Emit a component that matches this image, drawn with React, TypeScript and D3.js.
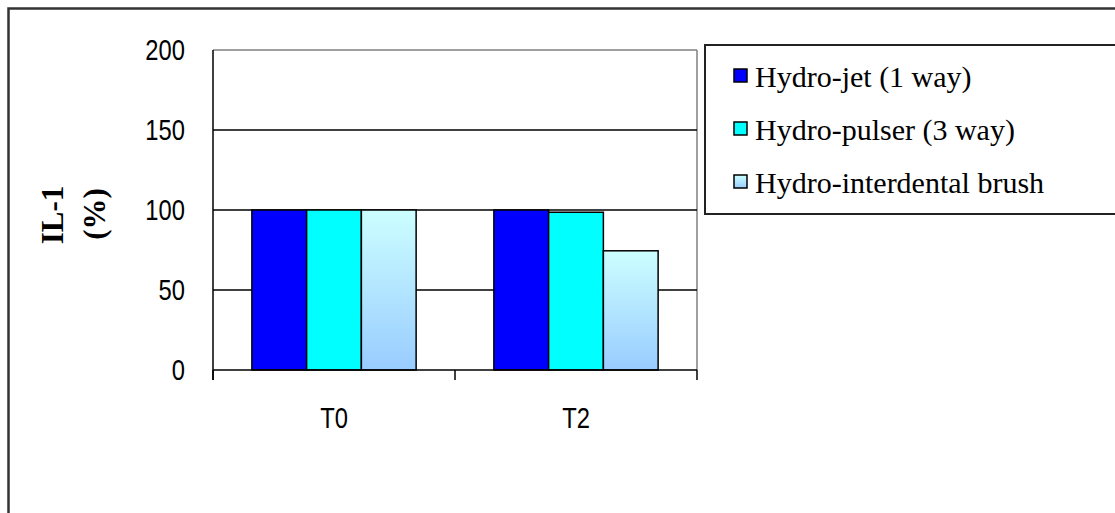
import React from "react";
import * as d3 from "d3";

const categories = ["T0", "T2"];
const seriesNames = ["Hydro-jet (1 way)", "Hydro-pulser (3 way)", "Hydro-interdental brush"];
const hydroJet = [100, 100];
const hydroPulser = [100, 98.6];
const hydroBrush = [100, 74.5];
const yTicks = [0, 50, 100, 150, 200];

const seriesValues = [hydroJet, hydroPulser, hydroBrush];
const fills = ["#0000FF", "#00FFFF", "url(#gradBrush)"];

const W = 1115;
const H = 513;
const plot = { left: 213, right: 697, top: 50, bottom: 370 };

export default function App() {
  const x0 = d3.scaleBand<string>().domain(categories).range([plot.left, plot.right]).paddingInner(0).paddingOuter(0);
  const x1 = d3
    .scaleBand<string>()
    .domain(seriesNames)
    .range([0, x0.bandwidth()])
    .paddingInner(0)
    .paddingOuter(0.71);
  const y = d3.scaleLinear().domain([0, 200]).range([plot.bottom, plot.top]);

  const sans = "'Liberation Sans', Arial, sans-serif";
  const serif = "'Liberation Serif', 'Times New Roman', serif";

  const legendX = 705;
  const legendY = 45;
  const legendRowBase = 87;
  const legendRowGap = 53;

  const xTickPositions = [plot.left, ...categories.map((c) => (x0(c) as number) + x0.bandwidth())];

  return (
    <div style={{ position: "absolute", left: 0, top: 0 }}>
      <svg width={W} height={H} style={{ display: "block" }}>
        <defs>
          <linearGradient id="gradBrush" x1="0" y1="0" x2="0" y2="1">
            <stop offset="0%" stopColor="#CCFFFF" />
            <stop offset="100%" stopColor="#99CCFF" />
          </linearGradient>
        </defs>
        <rect x={0} y={0} width={W} height={H} fill="#fff" />
        {/* chart area border */}
        <rect x={8.5} y={8.5} width={W + 50} height={H + 50} fill="none" stroke="#333" strokeWidth={2.5} />

        {/* plot area border (gray top/right) */}
        <line x1={plot.left} x2={plot.right} y1={y(200)} y2={y(200)} stroke="#808080" strokeWidth={1.5} />
        <line x1={plot.right} x2={plot.right} y1={plot.top} y2={plot.bottom} stroke="#808080" strokeWidth={1.5} />

        {/* gridlines */}
        {yTicks
          .filter((t) => t > 0 && t < 200)
          .map((t) => (
            <line key={t} x1={plot.left} x2={plot.right} y1={y(t)} y2={y(t)} stroke="#000" strokeWidth={1.5} />
          ))}

        {/* bars */}
        {categories.map((c, ci) =>
          seriesNames.map((s, si) => {
            const v = seriesValues[si][ci];
            const bx = (x0(c) as number) + (x1(s) as number);
            return (
              <rect
                key={c + s}
                x={bx}
                y={y(v)}
                width={x1.bandwidth()}
                height={y(0) - y(v)}
                fill={fills[si]}
                stroke="#000"
                strokeWidth={1.5}
              />
            );
          })
        )}

        {/* axes */}
        <line x1={plot.left} x2={plot.left} y1={plot.top} y2={plot.bottom + 10} stroke="#000" strokeWidth={1.5} />
        <line x1={plot.left} x2={plot.right} y1={plot.bottom} y2={plot.bottom} stroke="#000" strokeWidth={1.5} />
        {xTickPositions.map((p, i) => (
          <line key={i} x1={p} x2={p} y1={plot.bottom} y2={plot.bottom + 10} stroke="#000" strokeWidth={1.5} />
        ))}

        {/* y tick labels */}
        {yTicks.map((t) => (
          <text
            key={t}
            transform={`translate(185,${y(t) + 10}) scale(0.82,1)`}
            textAnchor="end"
            fontFamily={sans}
            fontSize={29}
            fill="#000"
          >
            {t}
          </text>
        ))}

        {/* x labels */}
        {categories.map((c) => (
          <text
            key={c}
            transform={`translate(${(x0(c) as number) + x0.bandwidth() / 2},428) scale(0.82,1)`}
            textAnchor="middle"
            fontFamily={sans}
            fontSize={29}
            fill="#000"
          >
            {c}
          </text>
        ))}

        {/* y title */}
        <text
          transform={`translate(63,215) rotate(-90)`}
          textAnchor="middle"
          fontFamily={serif}
          fontWeight="bold"
          fontSize={31}
          fill="#000"
        >
          IL-1
        </text>
        <text
          transform={`translate(105,214) rotate(-90)`}
          textAnchor="middle"
          fontFamily={serif}
          fontWeight="bold"
          fontSize={31}
          fill="#000"
        >
          (%)
        </text>

        {/* legend */}
        <rect x={legendX} y={legendY} width={W} height={214 - legendY} fill="#fff" stroke="#222" strokeWidth={2} />
        {seriesNames.map((s, i) => {
          const base = legendRowBase + i * legendRowGap;
          return (
            <g key={s}>
              <rect x={734} y={base - 18} width={13} height={13} fill={fills[i]} stroke="#000" strokeWidth={1.5} />
              <text x={755} y={base} fontFamily={serif} fontSize={30} fill="#000">
                {s}
              </text>
            </g>
          );
        })}
      </svg>
    </div>
  );
}
